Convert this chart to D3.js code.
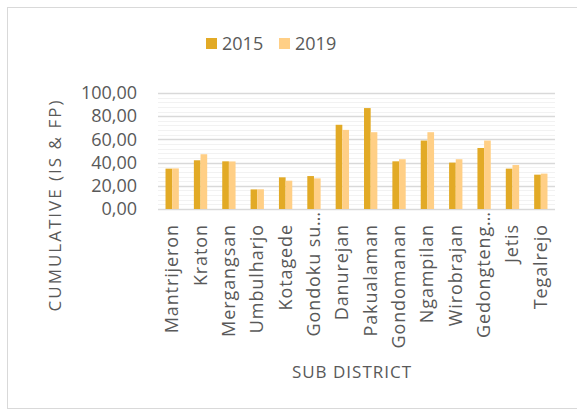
<!DOCTYPE html>
<html>
<head>
<meta charset="utf-8">
<script src="https://cdn.jsdelivr.net/npm/d3@7"></script>
<style>
  body { margin: 0; background: #fff; }
  text { font-family: "Open Sans", "Liberation Sans", sans-serif; fill: #595959; }
</style>
</head>
<body>
<div id="chart"></div>
<script>
// sub districts and the two survey years
const districts = ['Mantrijeron', 'Kraton', 'Mergangsan', 'Umbulharjo', 'Kotagede', 'Gondoku su\u2026',
    'Danurejan', 'Pakualaman', 'Gondomanan', 'Ngampilan', 'Wirobrajan', 'Gedongteng\u2026', 'Jetis', 'Tegalrejo'];
const years = ['2015', '2019'];
const values2015 = [34.8, 42.0, 41.1, 16.9, 27.3, 28.4, 72.6, 87.0, 41.1, 59.0, 40.0, 52.6, 34.8, 29.6];
const values2019 = [35.0, 47.2, 41.0, 17.0, 24.4, 26.4, 68.2, 66.2, 42.9, 66.2, 42.9, 59.0, 37.9, 30.5];
const yTicks = [0, 20, 40, 60, 80, 100];

const width = 577, height = 414;
const colors = { '2015': '#E2AA26', '2019': '#FFCF86' };
const margin = { left: 158, right: 22, top: 93, bottom: 205 };

const svg = d3.select('#chart').append('svg')
    .attr('width', width)
    .attr('height', height);

// outer chart frame
svg.append('rect')
    .attr('x', 7.5).attr('y', 7.5)
    .attr('width', 575).attr('height', 401)
    .attr('fill', 'none').attr('stroke', '#d9d9d9');

const x = d3.scaleBand()
    .domain(districts)
    .range([margin.left, width - margin.right])
    .paddingInner(0.53).paddingOuter(0.265);
const xInner = d3.scaleBand().domain(years).range([0, x.bandwidth()]);
const y = d3.scaleLinear().domain([0, 100]).range([height - margin.bottom, margin.top]);

// minor gridlines then major ones
const minor = d3.range(0, 101, 4).filter((v) => v % 20 !== 0);
svg.append('g').selectAll('line').data(minor).enter().append('line')
    .attr('x1', margin.left).attr('x2', width - margin.right)
    .attr('y1', (d) => Math.round(y(d)) + 0.5).attr('y2', (d) => Math.round(y(d)) + 0.5)
    .attr('stroke', '#f2f2f2');
svg.append('g').selectAll('line').data(yTicks).enter().append('line')
    .attr('x1', margin.left).attr('x2', width - margin.right)
    .attr('y1', (d) => Math.round(y(d)) + 0.5).attr('y2', (d) => Math.round(y(d)) + 0.5)
    .attr('stroke', '#d9d9d9').attr('stroke-width', 1.5);

// bars
const rows = districts.map((name, i) => ({ name, vals: { '2015': values2015[i], '2019': values2019[i] } }));
svg.append('g').selectAll('g').data(rows).enter().append('g')
    .attr('transform', (d) => `translate(${x(d.name)},0)`)
    .selectAll('rect')
    .data((d) => years.map((yr) => ({ yr, v: d.vals[yr] })))
    .enter().append('rect')
    .attr('x', (d) => xInner(d.yr))
    .attr('width', xInner.bandwidth())
    .attr('y', (d) => y(d.v))
    .attr('height', (d) => y(0) - y(d.v))
    .attr('fill', (d) => colors[d.yr]);

// y axis labels
const yAxis = svg.append('g')
    .attr('transform', `translate(137,0)`)
    .call(d3.axisLeft(y).tickValues(yTicks).tickSize(0).tickPadding(0)
        .tickFormat((d) => d3.format('.2f')(d).replace('.', ',')));
yAxis.select('.domain').remove();
yAxis.selectAll('text')
    .attr('font-size', 18)
    .attr('font-family', '"Open Sans", sans-serif')
    .attr('fill', '#595959');

// category labels, rotated
svg.append('g').selectAll('text').data(districts).enter().append('text')
    .attr('transform', (d) => {
        const top = d.endsWith('\u2026') ? 211 : 224;
        return `translate(${x(d) + x.bandwidth() / 2 + 6},${top}) rotate(-90)`;
    })
    .attr('text-anchor', 'end')
    .attr('font-size', 18)
    .attr('letter-spacing', 0.9)
    .text((d) => d);

// axis titles
svg.append('text')
    .attr('transform', 'translate(61,205) rotate(-90)')
    .attr('text-anchor', 'middle')
    .attr('font-size', 17)
    .attr('letter-spacing', 2)
    .text('CUMULATIVE (IS & FP)');
svg.append('text')
    .attr('x', 352).attr('y', 378)
    .attr('text-anchor', 'middle')
    .attr('font-size', 17)
    .attr('letter-spacing', 1)
    .text('SUB DISTRICT');

// legend
const legend = svg.append('g').selectAll('g').data(years).enter().append('g')
    .attr('transform', (d, i) => `translate(${206 + i * 73},38)`);
legend.append('rect').attr('width', 11).attr('height', 11).attr('fill', (d) => colors[d]);
legend.append('text').attr('x', 16).attr('y', 12).attr('font-size', 18).text((d) => d);
</script>
</body>
</html>
